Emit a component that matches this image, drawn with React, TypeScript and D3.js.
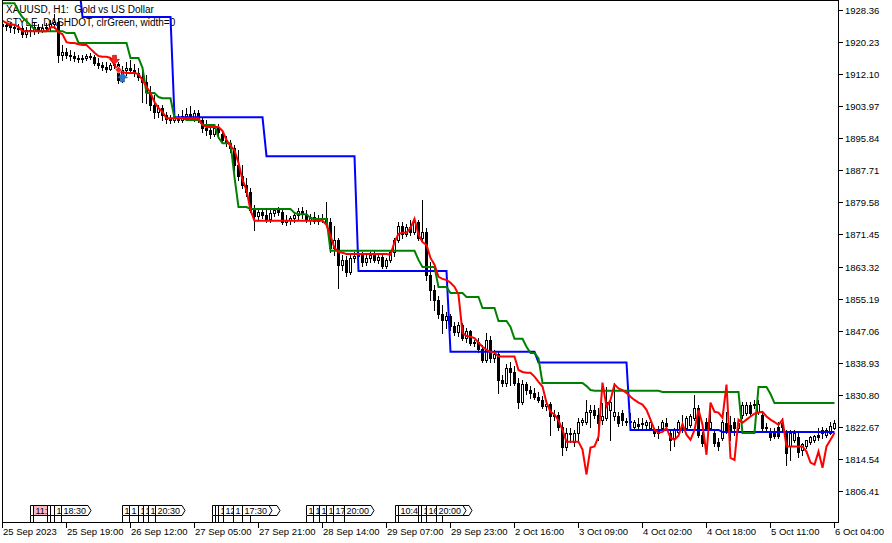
import React, { useEffect } from 'react';
import * as d3 from 'd3';

const W = 892;
const H = 543;
const FONT = '"Liberation Sans", Arial, sans-serif';

const titleLines = ['XAUUSD, H1:  Gold vs US Dollar', 'STYLE_DASHDOT, clrGreen, width=0'];

const priceTicks = [1806.41, 1814.54, 1822.67, 1830.80, 1838.93, 1847.06, 1855.19, 1863.32,
  1871.45, 1879.58, 1887.71, 1895.84, 1903.97, 1912.10, 1920.23, 1928.36];

const timeLabels = ['25 Sep 2023', '25 Sep 19:00', '26 Sep 12:00', '27 Sep 05:00', '27 Sep 21:00',
  '28 Sep 14:00', '29 Sep 07:00', '29 Sep 23:00', '2 Oct 16:00', '3 Oct 09:00', '4 Oct 02:00',
  '4 Oct 18:00', '5 Oct 11:00', '6 Oct 04:00'];
const barsPerLabel = 16;

// [open, high, low, close] per H1 bar
const ohlc: [number, number, number, number][] = [
  [1924.8, 1925.8, 1923.3, 1924.3], [1924.3, 1925.3, 1923.3, 1924.5], [1924.5, 1925.0, 1922.7, 1924.0],
  [1924.0, 1924.5, 1922.5, 1923.8], [1923.8, 1924.8, 1922.7, 1923.6], [1923.8, 1924.3, 1921.5, 1922.2],
  [1922.2, 1924.0, 1921.5, 1923.3], [1923.3, 1924.3, 1921.7, 1923.0], [1923.0, 1925.3, 1922.2, 1924.0],
  [1924.0, 1924.8, 1922.5, 1923.0], [1923.0, 1924.8, 1922.7, 1923.8], [1923.8, 1925.0, 1923.0, 1924.0],
  [1924.0, 1925.8, 1923.3, 1924.8], [1924.8, 1927.3, 1923.8, 1925.3], [1925.3, 1926.3, 1915.1, 1916.9],
  [1916.9, 1919.5, 1915.7, 1917.7], [1917.7, 1918.7, 1916.2, 1916.9], [1916.9, 1918.2, 1915.7, 1916.7],
  [1916.7, 1917.7, 1915.4, 1916.2], [1916.2, 1916.9, 1915.1, 1916.0], [1916.0, 1916.9, 1915.1, 1916.2],
  [1916.2, 1917.2, 1915.7, 1916.7], [1916.7, 1917.5, 1916.0, 1916.5], [1916.5, 1916.9, 1914.4, 1914.8],
  [1914.8, 1916.1, 1913.6, 1914.4], [1914.4, 1915.1, 1913.1, 1913.9], [1913.9, 1915.1, 1912.6, 1913.4],
  [1913.4, 1914.9, 1913.1, 1914.4], [1914.4, 1915.6, 1913.6, 1914.6], [1914.6, 1915.1, 1909.9, 1910.6],
  [1910.6, 1914.1, 1910.1, 1913.1], [1913.1, 1915.1, 1911.9, 1913.6], [1913.6, 1915.6, 1912.6, 1913.1],
  [1913.1, 1914.6, 1911.6, 1912.4], [1912.4, 1913.6, 1910.6, 1911.4], [1911.4, 1913.1, 1905.0, 1910.1],
  [1910.1, 1911.9, 1904.8, 1907.5], [1907.5, 1909.1, 1903.0, 1904.2], [1904.2, 1906.8, 1901.0, 1902.5],
  [1902.5, 1904.2, 1901.2, 1903.5], [1903.5, 1904.2, 1900.5, 1901.7], [1901.7, 1902.5, 1899.6, 1900.7],
  [1900.7, 1901.7, 1899.6, 1900.5], [1900.5, 1901.5, 1899.9, 1901.0], [1901.0, 1902.0, 1899.9, 1900.5],
  [1900.5, 1903.0, 1899.9, 1901.5], [1901.5, 1903.5, 1900.5, 1902.0], [1902.0, 1904.0, 1900.5, 1901.0],
  [1901.0, 1903.0, 1900.2, 1902.2], [1902.2, 1903.0, 1899.9, 1900.5], [1900.5, 1901.0, 1897.4, 1898.4],
  [1898.4, 1900.5, 1896.6, 1897.9], [1897.9, 1899.1, 1895.9, 1896.9], [1896.9, 1898.9, 1896.4, 1898.4],
  [1898.4, 1899.4, 1895.9, 1897.4], [1896.9, 1897.9, 1894.9, 1895.4], [1895.4, 1896.4, 1893.9, 1894.6],
  [1894.6, 1895.4, 1892.3, 1893.4], [1893.4, 1894.2, 1887.8, 1889.0], [1889.0, 1892.8, 1885.3, 1886.3],
  [1886.3, 1889.0, 1883.2, 1884.0], [1884.0, 1885.8, 1881.2, 1882.2], [1882.2, 1883.2, 1877.1, 1877.7],
  [1877.7, 1878.9, 1872.6, 1876.1], [1876.1, 1878.2, 1875.1, 1877.1], [1877.1, 1878.2, 1875.6, 1876.4],
  [1876.4, 1877.7, 1874.6, 1875.4], [1875.4, 1877.7, 1874.6, 1876.9], [1876.9, 1878.2, 1876.1, 1877.6],
  [1877.6, 1878.4, 1876.4, 1877.1], [1877.1, 1877.6, 1874.1, 1874.6], [1874.6, 1876.4, 1873.9, 1875.1],
  [1875.1, 1876.1, 1874.1, 1875.6], [1875.6, 1877.1, 1874.6, 1876.4], [1876.4, 1878.2, 1875.1, 1877.4],
  [1877.4, 1878.4, 1875.6, 1876.6], [1876.6, 1877.6, 1874.6, 1875.1], [1875.1, 1876.6, 1874.1, 1875.9],
  [1875.9, 1877.1, 1874.4, 1874.9], [1874.9, 1876.4, 1874.1, 1875.4], [1875.4, 1876.6, 1874.6, 1875.6],
  [1875.6, 1879.7, 1873.9, 1874.6], [1874.6, 1875.6, 1867.0, 1868.0], [1868.0, 1873.6, 1866.3, 1870.1],
  [1870.1, 1870.5, 1857.9, 1863.8], [1863.8, 1866.3, 1862.5, 1865.0], [1865.0, 1866.0, 1860.9, 1861.9],
  [1861.9, 1866.3, 1861.4, 1865.5], [1865.5, 1867.0, 1864.5, 1866.0], [1866.0, 1867.5, 1865.0, 1866.5],
  [1866.5, 1867.0, 1863.5, 1864.5], [1864.5, 1866.3, 1863.8, 1865.5], [1865.5, 1867.0, 1864.5, 1866.3],
  [1866.3, 1867.5, 1864.5, 1865.0], [1865.0, 1866.5, 1864.3, 1865.8], [1865.8, 1866.3, 1863.0, 1863.5],
  [1863.5, 1865.5, 1863.0, 1865.0], [1865.0, 1867.5, 1864.5, 1867.0], [1867.0, 1870.5, 1866.0, 1870.0],
  [1870.0, 1874.6, 1869.5, 1873.6], [1873.6, 1874.6, 1870.6, 1871.6], [1871.6, 1874.1, 1871.1, 1873.4],
  [1873.4, 1875.1, 1871.4, 1872.1], [1872.1, 1875.6, 1871.6, 1874.6], [1874.6, 1875.1, 1870.0, 1870.6],
  [1870.6, 1880.2, 1869.5, 1872.1], [1872.1, 1873.1, 1859.9, 1861.2], [1861.2, 1864.5, 1854.9, 1857.4],
  [1857.4, 1858.7, 1852.3, 1854.8], [1854.8, 1855.8, 1850.3, 1851.3], [1851.3, 1853.6, 1846.5, 1849.8],
  [1849.8, 1851.8, 1847.8, 1850.8], [1850.8, 1851.3, 1847.2, 1848.3], [1848.3, 1849.3, 1846.0, 1846.7],
  [1846.7, 1849.3, 1845.7, 1848.6], [1848.6, 1849.1, 1844.7, 1845.2], [1845.2, 1847.7, 1844.2, 1847.0],
  [1847.0, 1847.2, 1843.5, 1844.0], [1844.0, 1844.7, 1843.2, 1844.2], [1844.2, 1845.2, 1841.7, 1842.5],
  [1842.5, 1843.5, 1839.1, 1839.6], [1839.6, 1846.5, 1839.1, 1844.7], [1844.7, 1845.7, 1839.1, 1840.2],
  [1840.2, 1842.2, 1839.1, 1841.2], [1841.2, 1841.7, 1831.3, 1834.6], [1834.6, 1835.9, 1833.1, 1833.9],
  [1833.9, 1838.6, 1833.1, 1837.6], [1837.6, 1839.1, 1833.4, 1836.6], [1836.6, 1838.1, 1833.4, 1833.9],
  [1833.9, 1835.1, 1827.5, 1829.0], [1829.0, 1834.6, 1828.5, 1833.6], [1833.6, 1834.1, 1831.0, 1832.0],
  [1832.0, 1833.1, 1830.0, 1831.3], [1831.3, 1832.5, 1829.8, 1830.3], [1830.3, 1831.5, 1829.0, 1829.5],
  [1829.5, 1830.5, 1827.5, 1828.0], [1828.0, 1829.5, 1827.0, 1828.5], [1828.5, 1829.0, 1820.7, 1825.3],
  [1825.3, 1827.0, 1824.5, 1825.8], [1825.8, 1826.5, 1821.9, 1822.7], [1822.7, 1823.9, 1815.6, 1817.6],
  [1817.6, 1822.4, 1816.9, 1821.2], [1821.2, 1822.4, 1818.9, 1820.9], [1818.9, 1821.9, 1817.9, 1821.2],
  [1821.2, 1824.9, 1819.4, 1823.9], [1823.9, 1824.9, 1823.2, 1824.4], [1823.9, 1829.5, 1823.4, 1826.5],
  [1826.5, 1828.3, 1822.7, 1827.0], [1827.0, 1828.3, 1825.0, 1825.8], [1825.8, 1827.5, 1819.4, 1823.7],
  [1824.4, 1828.8, 1823.4, 1825.3], [1825.0, 1832.8, 1824.5, 1829.0], [1827.0, 1830.0, 1819.4, 1829.0],
  [1825.3, 1833.8, 1824.5, 1826.5], [1825.3, 1826.5, 1823.0, 1823.7], [1826.3, 1827.0, 1823.2, 1824.4],
  [1824.2, 1824.9, 1823.2, 1823.9], [1823.9, 1826.3, 1822.7, 1824.2], [1822.7, 1824.4, 1821.9, 1823.9],
  [1823.4, 1824.9, 1821.9, 1822.9], [1823.7, 1825.0, 1822.4, 1823.5], [1823.2, 1824.4, 1822.4, 1823.9],
  [1822.4, 1825.0, 1821.9, 1823.9], [1821.9, 1822.4, 1820.4, 1821.2], [1821.9, 1822.9, 1819.9, 1821.2],
  [1822.4, 1824.4, 1821.9, 1823.9], [1823.7, 1825.0, 1822.4, 1822.9], [1821.2, 1821.9, 1816.9, 1819.4],
  [1819.9, 1822.4, 1817.7, 1821.9], [1821.4, 1824.4, 1820.9, 1823.9], [1823.2, 1825.8, 1821.4, 1821.9],
  [1822.4, 1825.3, 1821.9, 1824.9], [1823.2, 1826.0, 1822.7, 1825.3], [1824.9, 1830.8, 1824.4, 1827.5],
  [1827.5, 1828.3, 1820.2, 1820.7], [1820.7, 1821.4, 1817.7, 1818.7], [1823.9, 1825.0, 1821.9, 1822.4],
  [1822.4, 1828.8, 1821.9, 1823.9], [1821.2, 1821.9, 1817.9, 1818.7], [1818.9, 1819.9, 1816.9, 1817.7],
  [1819.9, 1824.4, 1819.4, 1823.9], [1823.7, 1826.5, 1821.2, 1821.4], [1823.2, 1825.3, 1819.4, 1821.9],
  [1823.9, 1825.0, 1820.7, 1822.4], [1822.4, 1824.4, 1821.9, 1823.7], [1825.8, 1829.0, 1825.0, 1828.3],
  [1826.3, 1829.0, 1825.8, 1828.3], [1828.3, 1829.0, 1825.8, 1826.3], [1828.5, 1829.5, 1827.5, 1828.3],
  [1826.5, 1829.5, 1826.0, 1828.5], [1825.8, 1826.3, 1821.9, 1822.4], [1822.7, 1823.7, 1821.4, 1822.4],
  [1821.4, 1822.4, 1819.4, 1820.2], [1821.2, 1822.4, 1819.9, 1820.4], [1822.7, 1823.9, 1819.9, 1820.4],
  [1823.7, 1825.0, 1821.4, 1822.7], [1821.2, 1821.9, 1813.1, 1816.1], [1817.7, 1821.9, 1814.3, 1821.2],
  [1819.4, 1821.9, 1818.9, 1821.2], [1820.2, 1821.2, 1815.1, 1816.3], [1816.9, 1818.7, 1815.6, 1818.2],
  [1817.7, 1819.4, 1817.2, 1819.4], [1818.9, 1820.4, 1818.4, 1820.2], [1819.4, 1820.7, 1818.9, 1820.4],
  [1820.7, 1822.4, 1819.4, 1820.2], [1821.2, 1822.7, 1819.9, 1821.9], [1820.7, 1822.4, 1820.2, 1821.9],
  [1821.2, 1823.9, 1820.9, 1822.9], [1822.4, 1824.4, 1822.2, 1823.7],
];

// red indicator line, one value per bar
const redLine = [
  1925.6, 1925.1, 1924.6, 1924.6, 1924.1, 1923.0, 1923.0, 1923.0, 1923.0, 1923.0,
  1923.0, 1923.0, 1924.0, 1924.0, 1922.7, 1922.2, 1920.2, 1920.0, 1920.0, 1919.7,
  1919.5, 1919.5, 1918.5, 1917.5, 1916.7, 1916.5, 1916.5, 1916.2, 1914.4, 1912.9,
  1912.6, 1912.4, 1912.4, 1912.4, 1912.1, 1910.6, 1908.9, 1907.3, 1905.0, 1903.5,
  1902.5, 1900.9, 1900.9, 1900.9, 1900.9, 1900.9, 1900.9, 1900.9, 1900.9, 1900.9,
  1899.2, 1898.7, 1898.7, 1898.7, 1898.7, 1897.7, 1895.4, 1893.9, 1892.8, 1889.6,
  1885.3, 1882.7, 1877.6, 1874.9, 1874.9, 1874.9, 1874.9, 1874.9, 1874.9, 1874.9,
  1874.9, 1874.9, 1874.9, 1874.9, 1874.9, 1874.9, 1874.9, 1874.9, 1874.9, 1874.9,
  1874.9, 1873.9, 1871.1, 1868.0, 1867.0, 1866.8, 1866.5, 1866.5, 1866.5, 1866.5,
  1866.5, 1866.5, 1866.5, 1866.5, 1866.5, 1866.5, 1866.5, 1866.3, 1869.5, 1871.6,
  1871.9, 1871.9, 1873.1, 1875.4, 1871.4, 1869.5, 1868.8, 1865.5, 1863.8, 1860.7,
  1860.2, 1859.9, 1859.2, 1858.2, 1856.2, 1846.5, 1845.7, 1845.5, 1845.2, 1844.0,
  1843.0, 1842.2, 1841.7, 1841.5, 1840.5, 1840.5, 1840.5, 1840.5, 1840.5, 1837.1,
  1836.6, 1836.4, 1836.4, 1835.4, 1834.1, 1832.9, 1828.8, 1826.5, 1825.8, 1824.3,
  1821.9, 1818.9, 1818.9, 1818.9, 1818.9, 1816.9, 1810.6, 1817.4, 1817.7, 1820.2,
  1833.9, 1827.8, 1829.5, 1833.4, 1832.4, 1832.0, 1831.3, 1830.3, 1829.5, 1828.8,
  1828.3, 1827.0, 1824.5, 1821.9, 1821.2, 1821.4, 1822.4, 1819.9, 1819.4, 1820.4,
  1823.4, 1820.7, 1819.4, 1821.9, 1827.0, 1823.2, 1815.6, 1828.8, 1826.5, 1826.3,
  1825.0, 1833.4, 1814.8, 1814.3, 1824.5, 1823.7, 1824.5, 1825.3, 1826.0, 1826.3,
  1826.5, 1825.3, 1824.5, 1823.9, 1823.2, 1824.5, 1817.7, 1817.7, 1817.7, 1817.7,
  1817.7, 1816.4, 1813.6, 1813.1, 1816.4, 1812.3, 1817.7, 1819.4, 1821.2,
];

// green (H4) line: [first bar, value] steps
const greenSteps: [number, number][] = [
  [0, 1930.1], [4, 1928.0], [5, 1926.5], [6, 1925.5], [7, 1924.5], [8, 1923.5], [9, 1923.0],
  [16, 1922.5], [19, 1920.0], [32, 1916.2], [35, 1913.7], [36, 1907.3], [39, 1906.3], [40, 1906.0],
  [43, 1901.0], [46, 1900.5], [50, 1899.2], [54, 1896.0], [55, 1894.6], [58, 1886.0], [59, 1878.4],
  [62, 1877.9], [73, 1876.9], [74, 1876.6], [77, 1875.6], [78, 1875.4], [82, 1867.3], [104, 1865.0],
  [105, 1863.2], [109, 1858.1], [112, 1856.6], [116, 1855.6], [120, 1852.8], [124, 1849.5],
  [127, 1848.0], [128, 1845.0], [131, 1843.0], [132, 1841.4], [134, 1840.0], [135, 1833.8],
  [146, 1833.0], [147, 1832.0], [148, 1831.8], [165, 1831.5], [185, 1821.1], [189, 1832.8],
  [192, 1831.0], [193, 1828.7],
];

// blue (D1) line: [first bar, value] steps
const blueSteps: [number, number][] = [
  [0, 1936.0], [20, 1926.6], [43, 1901.2], [66, 1891.3], [89, 1862.2], [112, 1841.7],
  [134, 1839.0], [157, 1821.9], [180, 1821.4],
];

// trade arrows
const trades = [
  { bar: 28, price: 1915.6, kind: 'sell' },
  { bar: 29, price: 1913.2, kind: 'close' },
  { bar: 30, price: 1911.4, kind: 'buy' },
];

// calendar event labels on the time axis (drawn in this order)
const events: { bar: number; text: string; hi?: boolean }[] = [
  { bar: 6.9, text: '11:30' }, { bar: 7.6, text: '11:30', hi: true }, { bar: 11.1, text: '12:30' },
  { bar: 11.9, text: '14:00' }, { bar: 12.9, text: '16:00' }, { bar: 14.6, text: '18:30' },
  { bar: 29.9, text: '14:30' }, { bar: 31.6, text: '12:30' }, { bar: 33.9, text: '15:00' },
  { bar: 35.1, text: '15:30' }, { bar: 36.4, text: '17:00' }, { bar: 38.1, text: '20:30' },
  { bar: 52.4, text: '10:00' }, { bar: 53.1, text: '11:00' }, { bar: 53.9, text: '11:30' },
  { bar: 55.1, text: '12:30' }, { bar: 57.6, text: '15:30' }, { bar: 61.9, text: '20:00' },
  { bar: 59.9, text: '17:30' },
  { bar: 75.9, text: '14:30' }, { bar: 77.6, text: '15:00' }, { bar: 79.1, text: '16:00' },
  { bar: 80.9, text: '16:30' }, { bar: 82.6, text: '17:00' }, { bar: 85.4, text: '20:00' },
  { bar: 98.1, text: '09:30' }, { bar: 98.9, text: '10:45' }, { bar: 103.9, text: '14:00' },
  { bar: 104.6, text: '15:00' }, { bar: 105.9, text: '16:00' }, { bar: 109.9, text: '21:30' },
  { bar: 108.4, text: '20:00' },
];

function expandSteps(steps: [number, number][], n: number): number[] {
  const out: number[] = [];
  let k = 0;
  for (let i = 0; i < n; i++) {
    while (k + 1 < steps.length && steps[k + 1][0] <= i) k++;
    out.push(steps[k][1]);
  }
  return out;
}

const charW = (ch: string) => (ch === ':' ? 2.5 : 5);
function textWidth(s: string): number {
  let w = 0;
  for (const ch of s) w += charW(ch);
  return w;
}

export default function App() {
  useEffect(() => {
    document.body.style.margin = '0';
  }, []);

  const n = ohlc.length;
  const x = d3.scaleLinear().domain([0, n - 1]).range([2.5, 834.5]);
  const y = d3.scaleLinear().domain([1806.41, 1928.36]).range([491, 10]);

  const green = expandSteps(greenSteps, n);
  const blue = expandSteps(blueSteps, n);
  const line = d3.line<number>().x((_, i) => x(i)).y((v) => y(v));

  const left = 2, right = 838, top = 0, bottom = 522;

  // event boxes geometry + the part of each label that stays visible
  const boxes = events.map((e) => {
    const x0 = Math.round(x(e.bar)) + 0.5;
    const w = textWidth(e.text) + 4;
    return { ...e, x0, w, end: x0 + w + 3 };
  });
  const boxViews = boxes.map((b, i) => {
    let visStart = b.x0;
    let visEnd = b.end;
    for (let j = i + 1; j < boxes.length; j++) {
      const o = boxes[j];
      if (o.x0 > b.x0 && o.x0 < visEnd) visEnd = o.x0;
      else if (o.x0 <= b.x0 && o.end > visStart) visStart = Math.max(visStart, o.end);
    }
    let shown = '';
    let tx = b.x0 + 2;
    let cum = b.x0 + 2;
    let started = false;
    for (const ch of b.text) {
      const cw = charW(ch);
      if (cum + cw * 0.6 > visEnd) break;
      if (cum >= visStart - 0.5) {
        if (!started) { tx = cum; started = true; }
        shown += ch;
      }
      cum += cw;
    }
    return { ...b, shown, tx };
  });

  return (
    <svg width={W} height={H} viewBox={`0 0 ${W} ${H}`}
      style={{ position: 'absolute', left: 0, top: 0, display: 'block', background: '#fff' }}
      fontFamily={FONT}>
      <defs>
        <clipPath id="plot">
          <rect x={left + 1} y={top + 1} width={right - left - 1} height={bottom - top - 1} />
        </clipPath>
      </defs>
      <rect x={0} y={0} width={W} height={H} fill="#fff" />

      {titleLines.map((t, i) => (
        <text key={t} x={6} y={13 + i * 12.5} fontSize={10} fill="#000" style={{ whiteSpace: 'pre' }}>{t}</text>
      ))}

      <g clipPath="url(#plot)" shapeRendering="crispEdges">
        {ohlc.map(([o, h, l, c], i) => {
          const col = Math.round(x(i) - 0.5);
          const yh = Math.round(y(h)), yl = Math.round(y(l));
          const yo = Math.round(y(o)), yc = Math.round(y(c));
          const t = Math.min(yo, yc), b = Math.max(yo, yc);
          const bull = c > o;
          return (
            <g key={i}>
              <rect x={col} y={yh} width={1} height={yl - yh + 1} fill="#000" />
              <rect x={col - 1} y={t} width={3} height={b - t + 1} fill="#000" />
              {bull && b - t >= 2 && <rect x={col} y={t + 1} width={1} height={b - t - 1} fill="#fff" />}
            </g>
          );
        })}
      </g>

      <g clipPath="url(#plot)" fill="none" strokeWidth={2} strokeLinejoin="miter">
        <path d={line(blue) || ''} stroke="#0000ff" />
        <path d={line(green) || ''} stroke="#008000" />
        <path d={line(redLine) || ''} stroke="#ff0000" />
      </g>

      {trades.map((t, i) => {
        const cx = x(t.bar), cy = y(t.price);
        if (t.kind === 'sell') {
          return <path key={i} fill="#ff2020" stroke="#b00000" strokeWidth={0.6}
            d={`M${cx - 2},${cy - 5} H${cx + 2} V${cy - 1} H${cx + 5} L${cx},${cy + 4} L${cx - 5},${cy - 1} H${cx - 2} Z`} />;
        }
        if (t.kind === 'buy') {
          return <path key={i} fill="#2878d0" stroke="#1050a0" strokeWidth={0.6}
            d={`M${cx - 2},${cy + 5} H${cx + 2} V${cy + 1} H${cx + 5} L${cx},${cy - 4} L${cx - 5},${cy + 1} H${cx - 2} Z`} />;
        }
        return <path key={i} fill="#ff2020" stroke="#fff" strokeWidth={0.7}
          d={`M${cx},${cy - 3.5} L${cx + 3.5},${cy} L${cx},${cy + 3.5} L${cx - 3.5},${cy} Z`} />;
      })}

      {/* frame */}
      <g stroke="#000" strokeWidth={1} shapeRendering="crispEdges" fill="none">
        <path d={`M${left + 0.5},${top} V${bottom + 0.5}`} />
        <path d={`M${left},${top + 0.5} H${right + 0.5}`} />
        <path d={`M${right + 0.5},${top} V${bottom + 0.5}`} />
        <path d={`M${left},${bottom + 0.5} H${right + 1}`} />
      </g>

      {/* event labels */}
      <g>
        {boxViews.map((b, i) => (
          <g key={i}>
            <path d={`M${b.x0},505.5 H${b.x0 + b.w} L${b.x0 + b.w + 3},510.5 L${b.x0 + b.w},515.5 H${b.x0} Z`}
              fill={b.hi ? '#ffb6c1' : '#fff'} stroke="#000" strokeWidth={1} />
            <path d={`M${b.x0},515.5 V${bottom}`} stroke="#000" shapeRendering="crispEdges" />
            {b.shown && (
              <text x={b.tx} y={513.5} fontSize={9} fill="#000">{b.shown}</text>
            )}
          </g>
        ))}
      </g>

      {/* price axis */}
      {priceTicks.map((p) => {
        const yy = Math.round(y(p));
        return (
          <g key={p}>
            <path d={`M${right + 1},${yy + 0.5} H${right + 5}`} stroke="#000" shapeRendering="crispEdges" />
            <text x={right + 7} y={yy + 4} fontSize={9.5} fill="#000">{p.toFixed(2)}</text>
          </g>
        );
      })}

      {/* time axis */}
      {timeLabels.map((t, k) => {
        const col = Math.round(x(k * barsPerLabel) - 0.5);
        return (
          <g key={t}>
            <path d={`M${col + 0.5},${bottom + 1} V${bottom + 6}`} stroke="#000" shapeRendering="crispEdges" />
            <text x={col + 1} y={535} fontSize={9.5} fill="#000">{t}</text>
          </g>
        );
      })}
    </svg>
  );
}
